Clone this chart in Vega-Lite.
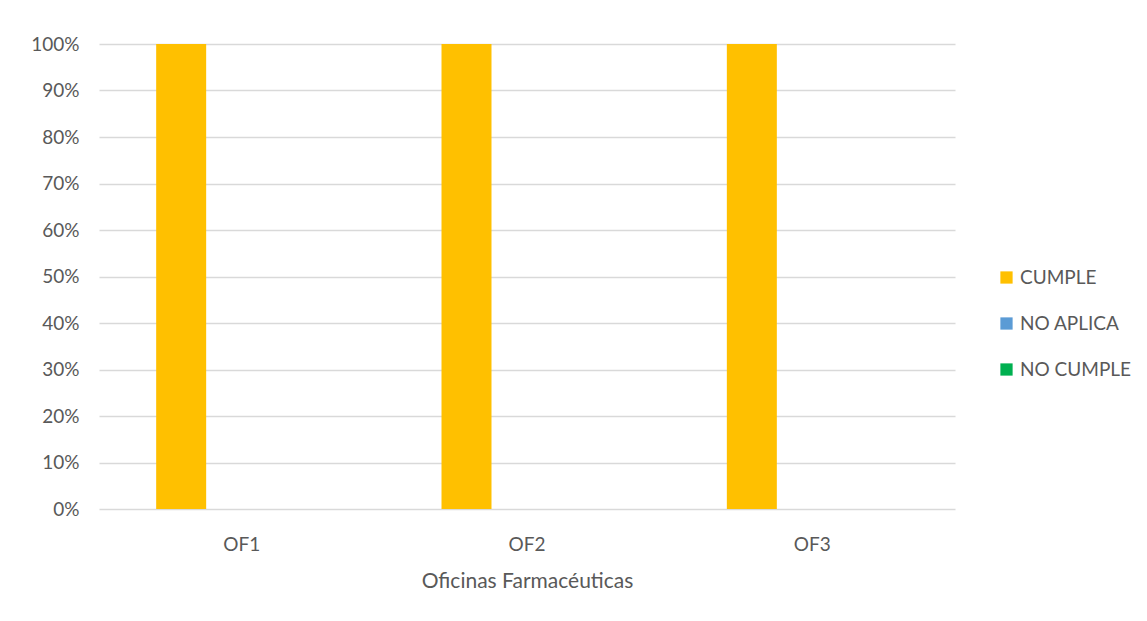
{
  "$schema": "https://vega.github.io/schema/vega-lite/v6.json",
  "autosize": "none",
  "width": 856,
  "height": 465,
  "padding": {"left": 99, "top": 44, "right": 192, "bottom": 112},
  "background": "white",
  "data": {
    "values": [
      {"oficina": "OF1", "estado": "CUMPLE", "pct": 1.0},
      {"oficina": "OF1", "estado": "NO APLICA", "pct": 0},
      {"oficina": "OF1", "estado": "NO CUMPLE", "pct": 0},
      {"oficina": "OF2", "estado": "CUMPLE", "pct": 1.0},
      {"oficina": "OF2", "estado": "NO APLICA", "pct": 0},
      {"oficina": "OF2", "estado": "NO CUMPLE", "pct": 0},
      {"oficina": "OF3", "estado": "CUMPLE", "pct": 1.0},
      {"oficina": "OF3", "estado": "NO APLICA", "pct": 0},
      {"oficina": "OF3", "estado": "NO CUMPLE", "pct": 0}
    ]
  },
  "mark": {"type": "bar"},
  "encoding": {
    "x": {
      "field": "oficina",
      "type": "nominal",
      "scale": {"paddingInner": 0, "paddingOuter": 0},
      "axis": {
        "title": "Oficinas Farmacéuticas",
        "labelAngle": 0,
        "labelFont": "Lato",
        "labelFontSize": 19,
        "labelColor": "#595959",
        "labelPadding": 26,
        "titleFont": "Lato",
        "titleFontSize": 21,
        "titleFontWeight": "normal",
        "titleColor": "#595959",
        "titlePadding": 16,
        "domain": false,
        "ticks": false,
        "grid": false
      }
    },
    "xOffset": {
      "field": "estado",
      "type": "nominal",
      "sort": ["CUMPLE", "NO APLICA", "NO CUMPLE"],
      "scale": {"paddingInner": 0.1736, "paddingOuter": 0.945}
    },
    "y": {
      "field": "pct",
      "type": "quantitative",
      "scale": {"domain": [0, 1]},
      "axis": {
        "title": null,
        "format": ".0%",
        "values": [0, 0.1, 0.2, 0.3, 0.4, 0.5, 0.6, 0.7, 0.8, 0.9, 1.0],
        "labelFont": "Lato",
        "labelFontSize": 19,
        "labelColor": "#595959",
        "labelPadding": 20,
        "domain": false,
        "ticks": false,
        "gridColor": "#D9D9D9",
        "gridWidth": 1.5
      }
    },
    "color": {
      "field": "estado",
      "type": "nominal",
      "sort": ["CUMPLE", "NO APLICA", "NO CUMPLE"],
      "scale": {
        "domain": ["CUMPLE", "NO APLICA", "NO CUMPLE"],
        "range": ["#FFC000", "#5B9BD5", "#00B050"]
      },
      "legend": {
        "title": null,
        "orient": "none",
        "legendX": 898,
        "legendY": 224,
        "symbolType": "square",
        "symbolSize": 150,
        "symbolStrokeWidth": 0,
        "labelFont": "Lato",
        "labelFontSize": 19,
        "labelColor": "#595959",
        "labelOffset": 4,
        "rowPadding": 26
      }
    }
  },
  "config": {
    "view": {"stroke": null}
  }
}
